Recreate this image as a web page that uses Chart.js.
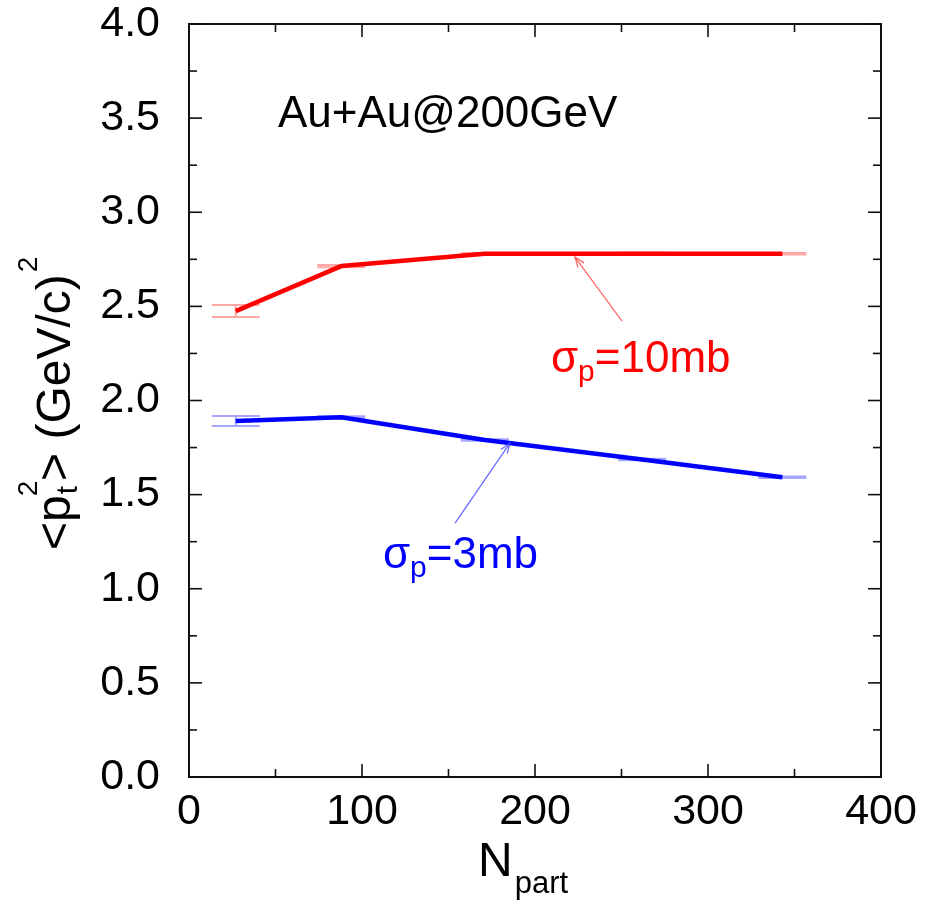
<!DOCTYPE html>
<html>
<head>
<meta charset="utf-8">
<script src="https://cdn.jsdelivr.net/npm/chart.js@4.4.1/dist/chart.umd.min.js"></script>
<style>
  html, body { margin: 0; padding: 0; background: #ffffff; }
  #wrap { width: 935px; height: 909px; }
</style>
</head>
<body>
<div id="wrap"><canvas id="c" width="935" height="909"></canvas></div>
<script>
// Mean squared transverse momentum vs. number of participants, Au+Au at 200 GeV
const nPart      = [27, 88, 171, 262, 343];
const pt2Sigma10 = [2.475, 2.714, 2.780, 2.780, 2.780];
const err10      = [0.032, 0.006, 0.004, 0.006, 0.004];
const pt2Sigma3  = [1.891, 1.911, 1.790, 1.687, 1.592];
const err3       = [0.026, 0.005, 0.004, 0.004, 0.004];

const xTicks = [0, 100, 200, 300, 400];
const xMinorTicks = [50, 150, 250, 350];
const yTicks = [0, 0.5, 1.0, 1.5, 2.0, 2.5, 3.0, 3.5, 4.0];
const yMinorTicks = [0.25, 0.75, 1.25, 1.75, 2.25, 2.75, 3.25, 3.75];

const FONT = '"Liberation Sans", Arial, Helvetica, sans-serif';

function toPoints(xs, ys) { return xs.map((x, i) => ({ x: x, y: ys[i] })); }

// draw a run of text pieces with individual sizes and vertical shifts
function drawRuns(ctx, x, y, runs, color) {
  ctx.save();
  ctx.fillStyle = color;
  ctx.textBaseline = 'alphabetic';
  ctx.textAlign = 'left';
  let cx = x;
  for (const r of runs) {
    ctx.font = r.size + 'px ' + FONT;
    ctx.fillText(r.t, cx + (r.dx || 0), y + (r.dy || 0));
    cx += ctx.measureText(r.t).width + (r.dx || 0);
  }
  ctx.restore();
  return cx;
}

function arrow(ctx, x0, y0, x1, y1, color) {
  ctx.save();
  ctx.strokeStyle = color;
  ctx.lineWidth = 1.3;
  ctx.beginPath();
  ctx.moveTo(x0, y0);
  ctx.lineTo(x1, y1);
  ctx.stroke();
  const a = Math.atan2(y1 - y0, x1 - x0);
  const L = 11, w = 0.35;
  ctx.beginPath();
  ctx.moveTo(x1 - L * Math.cos(a - w), y1 - L * Math.sin(a - w));
  ctx.lineTo(x1, y1);
  ctx.lineTo(x1 - L * Math.cos(a + w), y1 - L * Math.sin(a + w));
  ctx.stroke();
  ctx.restore();
}

// frame with inward ticks on all four sides
const framePlugin = {
  id: 'frame',
  beforeDatasetsDraw(chart) {
    const { ctx, chartArea: a, scales } = chart;
    const xs = scales.x, ys = scales.y;
    ctx.save();
    ctx.strokeStyle = '#111111';
    ctx.lineWidth = 2;
    ctx.strokeRect(a.left, a.top, a.right - a.left, a.bottom - a.top);
    ctx.lineWidth = 1.6;
    const tick = (x0, y0, x1, y1) => { ctx.beginPath(); ctx.moveTo(x0, y0); ctx.lineTo(x1, y1); ctx.stroke(); };
    xTicks.forEach(v => { const p = xs.getPixelForValue(v); tick(p, a.bottom, p, a.bottom - 13); tick(p, a.top, p, a.top + 13); });
    xMinorTicks.forEach(v => { const p = xs.getPixelForValue(v); tick(p, a.bottom, p, a.bottom - 8); tick(p, a.top, p, a.top + 8); });
    yTicks.forEach(v => { const p = ys.getPixelForValue(v); tick(a.left, p, a.left + 13, p); tick(a.right, p, a.right - 13, p); });
    yMinorTicks.forEach(v => { const p = ys.getPixelForValue(v); tick(a.left, p, a.left + 8, p); tick(a.right, p, a.right - 8, p); });
    ctx.restore();
  }
};

// light error bars with wide caps under each curve
const errorBarPlugin = {
  id: 'errorBars',
  beforeDatasetsDraw(chart) {
    const { ctx, scales } = chart;
    const xs = scales.x, ys = scales.y;
    const sets = [
      { v: pt2Sigma10, e: err10, c: 'rgba(255,60,60,0.45)' },
      { v: pt2Sigma3, e: err3, c: 'rgba(60,60,255,0.45)' }
    ];
    ctx.save();
    ctx.lineWidth = 2;
    sets.forEach(s => {
      ctx.strokeStyle = s.c;
      nPart.forEach((n, i) => {
        const px = xs.getPixelForValue(n);
        const hi = ys.getPixelForValue(s.v[i] + s.e[i]);
        const lo = ys.getPixelForValue(s.v[i] - s.e[i]);
        ctx.beginPath();
        ctx.moveTo(px, hi); ctx.lineTo(px, lo);
        ctx.moveTo(px - 24, hi); ctx.lineTo(px + 24, hi);
        ctx.moveTo(px - 24, lo); ctx.lineTo(px + 24, lo);
        ctx.stroke();
      });
    });
    ctx.restore();
  }
};

// annotations and axis titles
const textPlugin = {
  id: 'texts',
  afterDatasetsDraw(chart) {
    const { ctx, scales, chartArea: a } = chart;
    const xs = scales.x, ys = scales.y;
    const X = v => xs.getPixelForValue(v), Y = v => ys.getPixelForValue(v);

    drawRuns(ctx, X(51.4), Y(3.453), [{ t: 'Au+Au@200GeV', size: 44 }], '#000000');

    arrow(ctx, X(250.3), Y(2.422), X(223.1), Y(2.762), 'rgba(255,70,70,0.8)');
    drawRuns(ctx, X(209.2), Y(2.151), [
      { t: 'σ', size: 44 }, { t: 'p', size: 30, dy: 9 }, { t: '=10mb', size: 44 }
    ], '#ff0000');

    arrow(ctx, X(153.8), Y(1.349), X(185.5), Y(1.774), 'rgba(70,70,255,0.8)');
    drawRuns(ctx, X(112.1), Y(1.110), [
      { t: 'σ', size: 44 }, { t: 'p', size: 30, dy: 9 }, { t: '=3mb', size: 44 }
    ], '#0000ff');

    // x title
    const xc = (a.left + a.right) / 2;
    drawRuns(ctx, xc - 57, 876, [{ t: 'N', size: 48 }, { t: 'part', size: 31, dy: 17, dx: 2 }], '#000000');

    // y title, rotated
    ctx.save();
    ctx.translate(70, 550);
    ctx.rotate(-Math.PI / 2);
    let cx = drawRuns(ctx, 0, 0, [{ t: '<p', size: 48 }], '#000000');
    drawRuns(ctx, cx + 1, 7, [{ t: 't', size: 30 }], '#000000');
    drawRuns(ctx, cx - 1, -33, [{ t: '2', size: 28 }], '#000000');
    ctx.font = '30px ' + FONT;
    cx += ctx.measureText('t').width + 6;
    cx = drawRuns(ctx, cx, 0, [{ t: '> (GeV/c)', size: 48 }], '#000000');
    drawRuns(ctx, cx + 2, -33, [{ t: '2', size: 28 }], '#000000');
    ctx.restore();
  }
};

new Chart(document.getElementById('c'), {
  type: 'line',
  data: {
    datasets: [
      {
        label: 'σp=10mb',
        data: toPoints(nPart, pt2Sigma10),
        borderColor: '#ff0000',
        borderWidth: 4.5,
        pointRadius: 0,
        tension: 0,
        borderJoinStyle: 'round'
      },
      {
        label: 'σp=3mb',
        data: toPoints(nPart, pt2Sigma3),
        borderColor: '#0000ff',
        borderWidth: 4.5,
        pointRadius: 0,
        tension: 0,
        borderJoinStyle: 'round'
      }
    ]
  },
  options: {
    responsive: false,
    animation: false,
    devicePixelRatio: 1,
    layout: { padding: { top: 24, right: 54, left: 0, bottom: 0 } },
    plugins: { legend: { display: false }, tooltip: { enabled: false } },
    scales: {
      x: {
        type: 'linear',
        min: 0, max: 400,
        afterBuildTicks: s => { s.ticks = xTicks.map(v => ({ value: v })); },
        afterFit: s => { s.height = 132; s.paddingLeft = 0; s.paddingRight = 0; },
        grid: { display: false, drawTicks: false },
        border: { display: false },
        ticks: { color: '#000000', font: { family: FONT, size: 43 }, padding: 9, maxRotation: 0 }
      },
      y: {
        type: 'linear',
        min: 0, max: 4,
        afterBuildTicks: s => { s.ticks = yTicks.map(v => ({ value: v })); },
        afterFit: s => { s.width = 189; s.paddingTop = 0; s.paddingBottom = 0; },
        grid: { display: false, drawTicks: false },
        border: { display: false },
        ticks: { color: '#000000', font: { family: FONT, size: 43 }, padding: 29, callback: v => Number(v).toFixed(1) }
      }
    }
  },
  plugins: [framePlugin, errorBarPlugin, textPlugin]
});
</script>
</body>
</html>
